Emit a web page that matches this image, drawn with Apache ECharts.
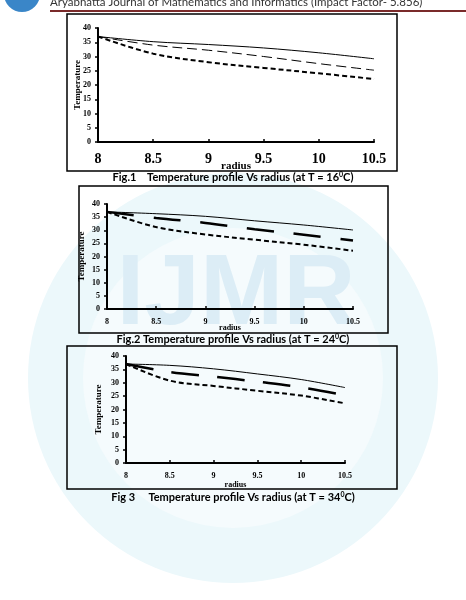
<!DOCTYPE html>
<html>
<head>
<meta charset="utf-8">
<script src="https://cdn.jsdelivr.net/npm/echarts@6/dist/echarts.min.js"></script>
<style>
  html, body { margin: 0; padding: 0; background: #fff; }
  #main { width: 466px; height: 600px; }
</style>
</head>
<body>
<div id="main"></div>
<script>
// radius values (x) shared by all three figures
var radius = [8, 8.5, 9, 9.5, 10, 10.5];
var xTicks = [8, 8.5, 9, 9.5, 10, 10.5];

// Fig.1 (T = 16 C)
var fig1Solid = [37, 35.2, 34.2, 33, 31.3, 29.2];
var fig1Dash = [37, 34, 32.2, 30, 27.5, 25.2];
var fig1Dot = [37, 31, 28, 26, 24.1, 22.1];

// Fig.2 (T = 24 C)
var fig2Solid = [37, 36.3, 35.3, 33.6, 32, 30.1];
var fig2Dash = [37, 34.7, 32.8, 30.4, 28.3, 26.1];
var fig2Dot = [37, 31.2, 28.4, 26.4, 24.5, 22.2];

// Fig.3 (T = 34 C)
var fig3Solid = [37, 36.5, 35.2, 33.3, 31.2, 28.2];
var fig3Dash = [37, 34, 32.3, 30.4, 28.3, 25.3];
var fig3Dot = [37, 30.8, 28.8, 27, 25.2, 22.3];

var serif = "Liberation Serif";

function pairs(ys) {
  return radius.map(function (x, i) { return [x, ys[i]]; });
}

// one grid per figure
var grids = [
  { left: 98, right: 92, top: 28, height: 114 },
  { left: 107, right: 113, top: 204, height: 105 },
  { left: 126, right: 121, top: 356, height: 107 }
];

var xFont = [14, 8, 8];
var xGap = [10, 9, 9];
var nameFont = [11, 8, 8];
var nameGapX = [19, 15, 18];
var nameGapY = [16, 21, 23];

var xAxes = [], yAxes = [];
for (var g = 0; g < 3; g++) {
  xAxes.push({
    type: "value", gridIndex: g, min: 8, max: 10.5, interval: 0.5,
    name: "radius", nameLocation: "middle", nameGap: nameGapX[g], nameMoveOverlap: false,
    nameTextStyle: { fontFamily: serif, fontWeight: "bold", fontSize: nameFont[g], color: "#000" },
    axisLine: { lineStyle: { color: "#000", width: 2 } },
    axisTick: { show: true, inside: true, length: 3, lineStyle: { color: "#000", width: 1.5 } },
    axisLabel: {
      fontFamily: serif, fontWeight: "bold", fontSize: xFont[g], color: "#000", margin: xGap[g],
      formatter: function (v) { return xTicks.indexOf(v) >= 0 ? String(v) : ""; }
    },
    splitLine: { show: false }
  });
  yAxes.push({
    type: "value", gridIndex: g, min: 0, max: 40, interval: 5,
    name: "Temperature", nameLocation: "middle", nameGap: nameGapY[g], nameRotate: 90,
    nameMoveOverlap: false,
    nameTextStyle: { fontFamily: serif, fontWeight: "bold", fontSize: 9, color: "#000" },
    axisLine: { show: true, lineStyle: { color: "#000", width: 2 } },
    axisTick: { show: true, length: 3, lineStyle: { color: "#000", width: 1.5 } },
    axisLabel: { fontFamily: serif, fontWeight: "bold", fontSize: 8, color: "#000", margin: 7 },
    splitLine: { show: false }
  });
}

function line(g, ys, width, dash) {
  return {
    type: "line", xAxisIndex: g, yAxisIndex: g, data: pairs(ys),
    smooth: 0.35, showSymbol: false, symbol: "none", silent: true,
    lineStyle: { color: "#000", width: width, type: dash }
  };
}

var series = [
  line(0, fig1Solid, 1, "solid"),
  line(0, fig1Dash, 1, [10, 5]),
  line(0, fig1Dot, 2, [5, 3]),
  line(1, fig2Solid, 1, "solid"),
  line(1, fig2Dash, 2.5, [27, 20]),
  line(1, fig2Dot, 2, [5, 3]),
  line(2, fig3Solid, 1, "solid"),
  line(2, fig3Dash, 2.5, [28, 18]),
  line(2, fig3Dot, 2, [5, 3])
];

var capStyle = {
  a: { fontFamily: "Lato", fontWeight: "bold", fontSize: 11, color: "#000" },
  s: { fontFamily: "Lato", fontWeight: "bold", fontSize: 7, color: "#000", verticalAlign: "top", padding: [0, 0, 6, 0] }
};

function caption(y, txt) {
  return {
    type: "text", left: "center", top: y, z: 10,
    style: { text: "{a|" + txt + "}{s|0}{a|C)}", rich: capStyle }
  };
}

function box(x, y, w, h) {
  return {
    type: "rect", shape: { x: x, y: y, width: w, height: h }, z: -1,
    style: { fill: null, stroke: "#000", lineWidth: 1.5 }
  };
}

var graphic = [
  // watermark seal
  { type: "circle", shape: { cx: 233, cy: 378, r: 205 }, z: -10,
    style: { fill: "#ecf8fb" } },
  { type: "circle", shape: { cx: 233, cy: 378, r: 150 }, z: -9,
    style: { fill: "#f5fbfd" } },
  { type: "text", x: 236, y: 296, z: -8,
    style: { text: "IJMR", fontFamily: "Liberation Sans", fontWeight: "bold", fontSize: 100,
      fill: "#dcedf6", align: "center", verticalAlign: "middle" } },
  // header
  { type: "circle", shape: { cx: 22, cy: -6, r: 18 }, style: { fill: "#3a86c8" } },
  { type: "text", x: 50, y: 2,
    style: { text: "Aryabhatta Journal of Mathematics and Informatics (Impact Factor- 5.856)",
      fontFamily: "Lato", fontSize: 11.5, fill: "#333", verticalAlign: "middle" } },
  { type: "rect", shape: { x: 50, y: 10, width: 416, height: 2 }, style: { fill: "#7a2a2a" } },
  // figure frames
  { type: "rect", shape: { x: 67, y: 14, width: 330, height: 157 }, z: -5, style: { fill: "#fff" } },
  box(67, 14, 330, 157),
  box(79, 186, 309, 147),
  box(67, 346, 330, 143),
  caption(171, "Fig.1    Temperature profile Vs radius (at T = 16"),
  caption(333, "Fig.2 Temperature profile Vs radius (at T = 24"),
  caption(491, "Fig 3     Temperature profile Vs radius (at T = 34")
];

var chart = echarts.init(document.getElementById("main"));
chart.setOption({
  animation: false,
  grid: grids,
  xAxis: xAxes,
  yAxis: yAxes,
  series: series,
  graphic: graphic
});
</script>
</body>
</html>
